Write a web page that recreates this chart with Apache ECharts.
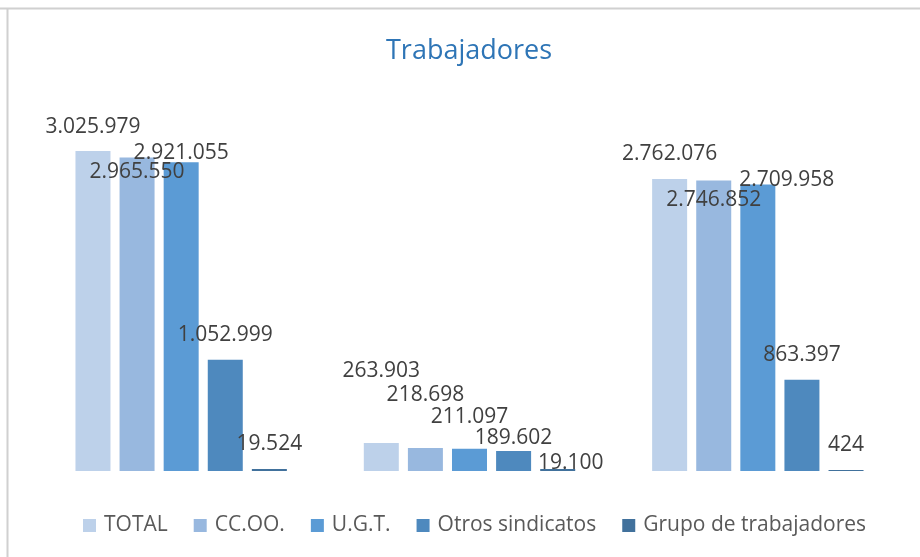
<!DOCTYPE html>
<html>
<head>
<meta charset="utf-8">
<script src="https://cdn.jsdelivr.net/npm/echarts@6/dist/echarts.min.js"></script>
<style>
  html, body { margin: 0; padding: 0; background: #fff; }
  #chart { width: 920px; height: 557px; }
</style>
</head>
<body>
<div id="chart"></div>
<script>
// datos
const categories = ['1', '2', '3'];
const seriesNames = ['TOTAL', 'CC.OO.', 'U.G.T.', 'Otros sindicatos', 'Grupo de trabajadores'];
const total = [3025979, 263903, 2762076];
const ccoo = [2965550, 218698, 2746852];
const ugt = [2921055, 211097, 2709958];
const otros = [1052999, 189602, 863397];
const grupo = [19524, 19100, 424];

const values = [total, ccoo, ugt, otros, grupo];
const colors = ['#BDD1EA', '#98B8DF', '#5B9BD5', '#4E89BE', '#41719C'];

// desplazamiento de etiquetas para evitar solapes (como en Excel)
const labelShift = [
  [[0, 0], [0, -48], [0, 0]],
  [[0, 39], [0, -28], [0, 44]],
  [[0, 15], [0, -7], [29, 20]],
  [[0, 0], [0, 12], [0, 0]],
  [[0, 0], [13, 19], [0, 0]]
];

function fmt(v) {
  return String(v).replace(/\B(?=(\d{3})+(?!\d))/g, '.');
}

const chart = echarts.init(document.getElementById('chart'));

const series = seriesNames.map((name, i) => ({
  name: name,
  type: 'bar',
  barWidth: 35,
  barGap: '26%',
  barMinHeight: 1,
  itemStyle: { color: colors[i] },
  label: {
    show: true,
    position: 'top',
    distance: 14,
    fontFamily: 'Open Sans',
    fontSize: 21,
    color: '#404040',
    formatter: p => fmt(p.value)
  },
  data: values[i].map((v, j) => ({
    value: v,
    label: { offset: labelShift[i][j] }
  }))
}));

chart.setOption({
  animation: false,
  title: {
    text: 'Trabajadores',
    left: 381,
    top: 33,
    textStyle: { fontFamily: 'Open Sans', fontSize: 27, fontWeight: 'normal', color: '#2E75B6' }
  },
  legend: {
    bottom: 16,
    left: 78,
    icon: 'rect',
    itemWidth: 13,
    itemHeight: 13,
    itemGap: 26,
    textStyle: { fontFamily: 'Open Sans', fontSize: 21, color: '#595959', padding: [0, 0, 0, 3] },
    data: seriesNames
  },
  grid: { left: 37, right: 18, top: 101, bottom: 86, containLabel: false },
  xAxis: {
    type: 'category',
    data: categories,
    axisLine: { show: false },
    axisTick: { show: false },
    axisLabel: { show: false }
  },
  yAxis: {
    type: 'value',
    min: 0,
    max: 3500000,
    show: false,
    splitLine: { show: false }
  },
  graphic: [
    { type: 'line', shape: { x1: 0, y1: 8.5, x2: 920, y2: 8.5 }, style: { stroke: '#D0D0D0', lineWidth: 2 } },
    { type: 'line', shape: { x1: 7.5, y1: 8, x2: 7.5, y2: 557 }, style: { stroke: '#D0D0D0', lineWidth: 2 } }
  ],
  series: series
});
</script>
</body>
</html>
